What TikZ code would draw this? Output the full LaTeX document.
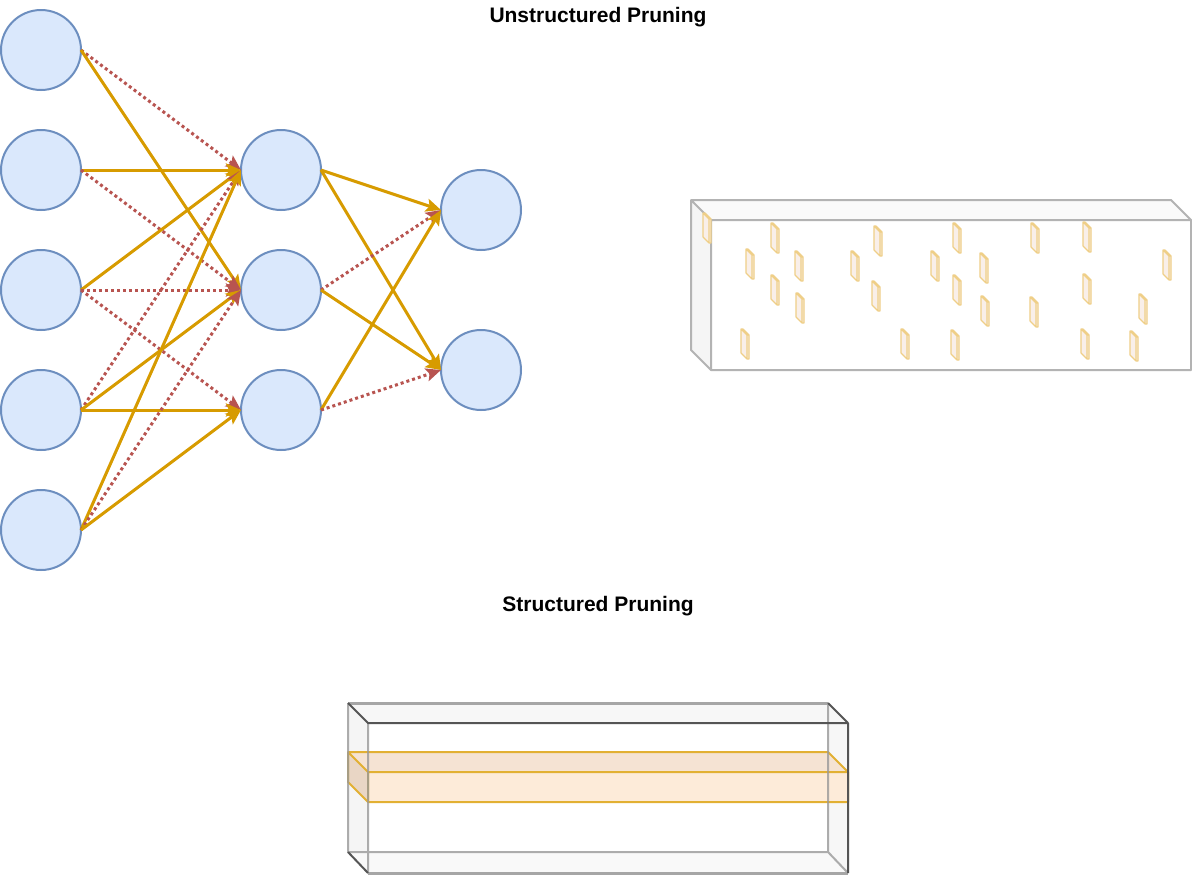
\documentclass[tikz,border=0pt]{standalone}
\usepackage{fontspec}
\setmainfont{Liberation Sans}
\usetikzlibrary{arrows.meta}
\definecolor{nfill}{HTML}{DAE8FC}
\definecolor{nline}{HTML}{6C8EBF}
\definecolor{orng}{HTML}{D79B00}
\definecolor{redd}{HTML}{B85450}
\definecolor{boxline}{HTML}{B3B3B3}
\definecolor{boxdark}{HTML}{555555}
\definecolor{cubeln}{HTML}{EFCF88}
\definecolor{cubefl}{HTML}{F9EFE9}
\definecolor{slabtop}{HTML}{F5E3D3}
\definecolor{slableft}{HTML}{E9D6C5}
\definecolor{slabfront}{HTML}{FDEBD9}
\definecolor{slabline}{HTML}{E2B033}
\definecolor{grA}{HTML}{FAFAFA}
\definecolor{grB}{HTML}{F5F5F5}
\definecolor{grC}{HTML}{F7F7F7}
\definecolor{grD}{HTML}{F9F9F9}
\definecolor{grE}{HTML}{999999}
\definecolor{grF}{HTML}{A6A6A6}
\begin{document}
\begin{tikzpicture}[x=1pt,y=-1pt,
  neuron/.style={circle,draw=nline,fill=nfill,line width=2pt,minimum size=80pt,inner sep=0pt,outer sep=0pt},
  tipstyle/.style={-{Stealth[length=15pt,width=13pt,inset=3pt]}},
  keepedge/.style={draw=orng,line width=3pt,tipstyle},
  cutedge/.style={draw=redd,line width=3pt,dash pattern=on 3pt off 3pt,tipstyle},
  titletext/.style={font=\fontsize{21}{25}\selectfont\bfseries,inner sep=0pt,anchor=base},
  pcube/.pic={
    \fill[cubefl] (-4,-15) -- (-2,-15) -- (4,-9) -- (4,15) -- (2,15) -- (-4,9) -- cycle;
    \draw[cubeln,line width=1.2pt,line join=round] (-4,-15) -- (-2,-15) -- (4,-9) -- (4,15) -- (2,15) -- (-4,9) -- cycle
      (-4,-15) -- (2,-9) -- (2,15) (2,-9) -- (4,-9);
  }]
\useasboundingbox (0,0) rectangle (1192,876);
\fill[white] (0,0) rectangle (1192,876);

% titles
\node[titletext] (t1) at (598,22) {Unstructured Pruning};
\node[titletext] (t2) at (598,611) {Structured Pruning};

% neurons
\node[neuron] (i1) at (41,50) {};
\node[neuron] (i2) at (41,170) {};
\node[neuron] (i3) at (41,290) {};
\node[neuron] (i4) at (41,410) {};
\node[neuron] (i5) at (41,530) {};
\node[neuron] (h1) at (281,170) {};
\node[neuron] (h2) at (281,290) {};
\node[neuron] (h3) at (281,410) {};
\node[neuron] (o1) at (481,210) {};
\node[neuron] (o2) at (481,370) {};

% connections input -> hidden
\draw[cutedge] (i1.east) -- (h1.west);
\draw[keepedge] (i1.east) -- (h2.west);
\draw[keepedge] (i2.east) -- (h1.west);
\draw[cutedge] (i2.east) -- (h2.west);
\draw[keepedge] (i3.east) -- (h1.west);
\draw[cutedge] (i3.east) -- (h2.west);
\draw[cutedge] (i3.east) -- (h3.west);
\draw[cutedge] (i4.east) -- (h1.west);
\draw[keepedge] (i4.east) -- (h2.west);
\draw[keepedge] (i4.east) -- (h3.west);
\draw[keepedge] (i5.east) -- (h1.west);
\draw[cutedge] (i5.east) -- (h2.west);
\draw[keepedge] (i5.east) -- (h3.west);
% hidden -> output
\draw[keepedge] (h1.east) -- (o1.west);
\draw[keepedge] (h1.east) -- (o2.west);
\draw[cutedge] (h2.east) -- (o1.west);
\draw[keepedge] (h2.east) -- (o2.west);
\draw[keepedge] (h3.east) -- (o1.west);
\draw[cutedge] (h3.east) -- (o2.west);

% unstructured box
\fill[grA] (691,200) -- (1171,200) -- (1191,220) -- (711,220) -- cycle;
\fill[grB] (691,200) -- (711,220) -- (711,370) -- (691,350) -- cycle;
\draw[boxline,line width=2pt,line join=round]
  (691,200) -- (1171,200) -- (1191,220) -- (1191,370) -- (711,370) -- (691,350) -- cycle
  (691,200) -- (711,220) -- (1191,220) (711,220) -- (711,370);

\foreach \cx/\cy in {707/228,775/238,750/264,799/266,775/290,800/308,745/344,
  855/266,878/241,876/296,905/344,935/266,957/238,984/268,957/290,985/311,955/345,
  1035/238,1034/312,1087/237,1087/289,1085/344,1167/265,1143/309,1134/346}
  \pic at (\cx,\cy) {pcube};

% structured box: faces
\fill[grC] (348,703) -- (828,703) -- (848,723) -- (368,723) -- cycle;
\fill[grB] (348,703) -- (368,723) -- (368,873) -- (348,852) -- cycle;
\fill[grC] (828,703) -- (848,723) -- (848,873) -- (828,852) -- cycle;
\fill[grD] (348,852) -- (828,852) -- (848,873) -- (368,873) -- cycle;
% slab
\fill[slabtop] (348,752) -- (828,752) -- (848,772) -- (368,772) -- cycle;
\fill[slableft] (348,752) -- (368,772) -- (368,802) -- (348,782) -- cycle;
\fill[slabfront] (368,772) rectangle (848,802);
\draw[slabline,line width=2pt,line join=round]
  (348,752) -- (828,752) -- (848,772) -- (848,802) -- (368,802) -- (348,782) -- cycle
  (348,752) -- (368,772) -- (848,772) (368,772) -- (368,802);
% box edges
\draw[grE,line width=2pt,opacity=0.8]
  (348,703) -- (348,852) -- (828,852) -- (828,703)
  (368,723) -- (368,873)
  (828,852) -- (848,873);
\draw[grF,line width=3pt] (348,703) -- (828,703) (368,873) -- (848,873);
\draw[boxdark,line width=2pt,line join=round]
  (348,703) -- (368,723) -- (848,723) -- (848,873)
  (828,703) -- (848,723)
  (348,852) -- (368,873);
\end{tikzpicture}
\end{document}
